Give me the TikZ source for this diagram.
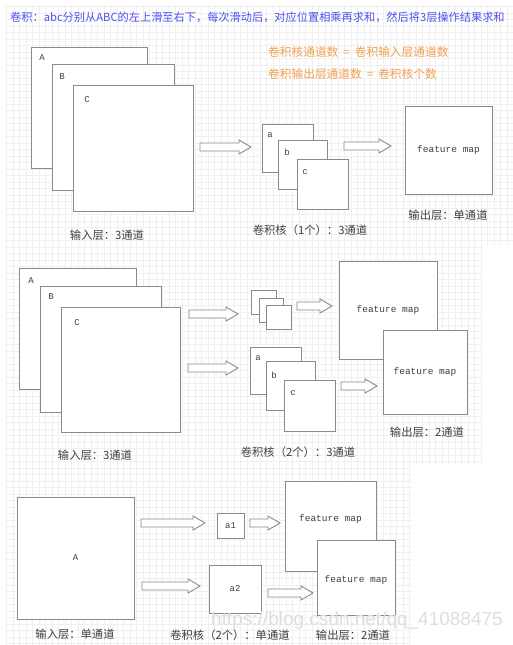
\documentclass[tikz,border=0pt]{standalone}
\usepackage{fontspec}
\newfontfamily\cjk{Noto Sans CJK SC}
\newfontfamily\mono{Liberation Mono}
\newfontfamily\wmfont{Liberation Sans}
\usetikzlibrary{fit,calc}
\definecolor{boxgray}{HTML}{8A8A8A}
\definecolor{gridc}{HTML}{F0F0F0}
\definecolor{bluetxt}{HTML}{5050F0}
\definecolor{orangetxt}{HTML}{F0A050}
\definecolor{labtxt}{HTML}{404040}
\newcommand\harrow[3]{\draw[arrowline] (#1,#3-4) -- (#2-12,#3-4) -- (#2-12,#3-7) -- (#2,#3) -- (#2-12,#3+7) -- (#2-12,#3+4) -- (#1,#3+4) -- cycle;}
\begin{document}
\begin{tikzpicture}[x=1pt,y=-1pt,
  box/.style={draw=boxgray, fill=white, line width=1pt, inner sep=0pt},
  arrowline/.style={draw=boxgray, fill=white, line width=0.9pt},
  chan/.style={font=\mono\fontsize{9}{10}\selectfont, text=labtxt, inner sep=0pt},
  fm/.style={font=\mono\fontsize{9.5}{11}\selectfont, text=labtxt, inner sep=0pt},
  captxt/.style={font=\cjk\fontsize{11.3}{13}\selectfont, text=labtxt, inner sep=0pt},
  note/.style={anchor=west, font=\cjk\fontsize{11.7}{13}\selectfont, inner sep=0pt},
  panel/.style={fill=white},
  gridline/.style={draw=gridc, line width=0.5pt}]
\useasboundingbox (0,0) rectangle (513,645);
\clip (0,0) rectangle (513,645);
% panels with grid
\fill[panel] (0,0) rectangle (513,645);
\draw[gridline, step=6.5pt] (5,5) grid (513,245);
\draw[gridline, step=6.5pt] (5,245) grid (482,465);
\draw[gridline, step=6.5pt] (5,465) grid (412,645);

% ---------- panel 1 ----------
\node[note, text=bluetxt, font=\cjk\fontsize{11.2}{13}\selectfont] (title) at (10,17) {卷积：abc分别从ABC的左上滑至右下，每次滑动后，对应位置相乘再求和，然后将3层操作结果求和};
\node[note, text=orangetxt] (rule1) at (268,52) {卷积核通道数\hspace{5pt}=\hspace{5pt}卷积输入层通道数};
\node[note, text=orangetxt] (rule2) at (268,74) {卷积输出层通道数\hspace{5pt}=\hspace{5pt}卷积核个数};

\node[box, fit={(31,47) (147,168)}] (pA) {};
\node[chan] (pAl) at (42,58) {A};
\node[box, fit={(52,64) (174,190)}] (pB) {};
\node[chan] (pBl) at (62,77) {B};
\node[box, fit={(73,85) (193,211)}] (pC) {};
\node[chan] (pCl) at (87,100) {C};
\harrow{200}{251}{147}
\node[box, fit={(262,124) (313,172)}] (ka) {};
\node[chan] (kal) at (270,135) {a};
\node[box, fit={(278,140) (327,189)}] (kb) {};
\node[chan] (kbl) at (287,152) {b};
\node[box, fit={(297,159) (348,209)}] (kc) {};
\node[chan] (kcl) at (305,172) {c};
\harrow{344}{391}{146}
\node[box, fit={(405,106) (492,194)}] (f1) {};
\node[fm] at (f1.center) {feature map};
\node[captxt] (c1a) at (107,235) {输入层：3通道};
\node[captxt] (c1b) at (310,230) {卷积核（1个）：3通道};
\node[captxt] (c1c) at (448,215) {输出层：单通道};

% ---------- panel 2 ----------
\node[box, fit={(19,268) (136,389)}] (qA) {};
\node[chan] at (31,281) {A};
\node[box, fit={(40,286) (161,412)}] (qB) {};
\node[chan] at (51,297) {B};
\node[box, fit={(61,307) (180,432)}] (qC) {};
\node[chan] at (77,323) {C};
\harrow{189}{238}{314}
\harrow{188}{238}{368}
\node[box, fit={(251,290) (276,314)}] (s1) {};
\node[box, fit={(259,298) (283,322)}] (s2) {};
\node[box, fit={(266,305) (291,329)}] (s3) {};
\harrow{297}{332}{306}
\node[box, fit={(339,261) (437,359)}] (f2) {};
\node[fm] at (f2.center) {feature map};
\node[box, fit={(250,347) (301,394)}] (la) {};
\node[chan] at (258,358) {a};
\node[box, fit={(266,361) (315,410)}] (lb) {};
\node[chan] at (274,375) {b};
\node[box, fit={(284,380) (335,431)}] (lc) {};
\node[chan] at (293,393) {c};
\harrow{341}{377}{386}
\node[box, fit={(383,330) (467,414)}] (f3) {};
\node[fm] at (f3.center) {feature map};
\node[captxt] at (427,432) {输出层：2通道};
\node[captxt] at (298,452) {卷积核（2个）：3通道};
\node[captxt] at (95,455) {输入层：3通道};

% ---------- panel 3 ----------
\node[box, fit={(17,497) (134,619)}] (rA) {};
\node[chan] at (rA.center) {A};
\harrow{141}{205}{523}
\node[box, fit={(217,513) (244,538)}] (a1) {};
\node[chan] at (a1.center) {a1};
\harrow{250}{280}{523}
\node[box, fit={(285,481) (376,571)}] (f4) {};
\node[fm] at ($(f4.center)+(0,-7)$) {feature map};
\harrow{142}{200}{586}
\node[box, fit={(209,565) (261,613)}] (a2) {};
\node[chan] at (a2.center) {a2};
\harrow{268}{313}{593}
\node[box, fit={(317,540) (395,615)}] (f5) {};
\node[fm] at (356,580) {feature map};
\node[text=black!13, font=\wmfont\fontsize{19}{21}\selectfont, inner sep=0pt] (wm) at (357,621) {https://blog.csdn.net/qq\_41088475};
\node[captxt] at (75,634) {输入层：单通道};
\node[captxt] at (230,635) {卷积核（2个）：单通道};
\node[captxt] at (353,635) {输出层：2通道};
\end{tikzpicture}
\end{document}
